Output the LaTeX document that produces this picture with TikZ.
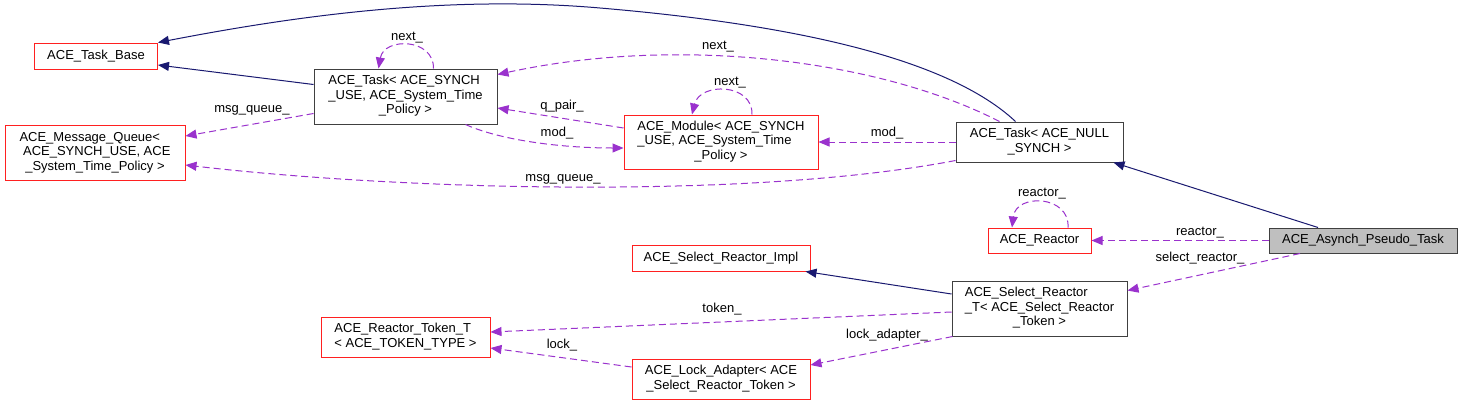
\documentclass[tikz,border=0pt]{standalone}
\usepackage{fontspec}
\setmainfont{Liberation Sans}
\usetikzlibrary{arrows.meta,calc}
\definecolor{navyc}{HTML}{191970}
\definecolor{purc}{HTML}{9A32CD}
\definecolor{redc}{HTML}{FF2020}
\definecolor{blkc}{HTML}{404040}
\definecolor{grayf}{HTML}{BFBFBF}
\newcommand\dlab[2]{\begin{tabular}{@{}l@{}}#1\\\multicolumn{1}{@{}c@{}}{#2}\end{tabular}}
\begin{document}
\begin{tikzpicture}[x=1pt,y=-1pt,font=\fontsize{13}{14.5}\selectfont,
  cls/.style={draw,line width=1pt,inner sep=0pt,anchor=center},
  rbox/.style={cls,draw=redc},
  bbox/.style={cls,draw=blkc},
  inh/.style={draw=navyc,line width=1pt,-{Triangle[length=11pt,width=9pt]}},
  use/.style={draw=purc,line width=1pt,dash pattern=on 7pt off 4pt,-{Triangle[length=11pt,width=9pt]}},
  lbl/.style={inner sep=0pt,anchor=center}]
\useasboundingbox[fill=white] (0,0) rectangle (1464,405);

% nodes
\node[rbox,minimum width=123pt,minimum height=26pt] (tb) at (96,56) {ACE\_Task\_Base};
\node[rbox,minimum width=180pt,minimum height=55pt] (mq) at (95,153) {\dlab{ACE\_Message\_Queue<\\\ ACE\_SYNCH\_USE, ACE}{\_System\_Time\_Policy >}};
\node[bbox,minimum width=183pt,minimum height=55pt] (ts) at (405.5,96.5) {\dlab{ACE\_Task< ACE\_SYNCH\\\_USE, ACE\_System\_Time}{\_Policy >}};
\node[rbox,minimum width=194pt,minimum height=54pt] (mod) at (721,142) {\dlab{ACE\_Module< ACE\_SYNCH\\\_USE, ACE\_System\_Time}{\_Policy >}};
\node[bbox,minimum width=167pt,minimum height=40pt] (tn) at (1039.5,142) {\dlab{ACE\_Task< ACE\_NULL}{\_SYNCH >}};
\node[rbox,minimum width=103pt,minimum height=25pt] (re) at (1039.5,240.5) {ACE\_Reactor};
\node[bbox,fill=grayf,minimum width=188pt,minimum height=25pt] (ap) at (1363,240.5) {ACE\_Asynch\_Pseudo\_Task};
\node[rbox,minimum width=178pt,minimum height=26pt] (sri) at (721,258) {ACE\_Select\_Reactor\_Impl};
\node[bbox,minimum width=175pt,minimum height=55pt] (srt) at (1039.5,308.5) {\dlab{ACE\_Select\_Reactor\\\_T< ACE\_Select\_Reactor}{\_Token >}};
\node[rbox,minimum width=169pt,minimum height=40pt] (rtt) at (405.5,337) {\dlab{ACE\_Reactor\_Token\_T}{< ACE\_TOKEN\_TYPE >}};
\node[rbox,minimum width=178pt,minimum height=40pt] (la) at (721,379) {\dlab{ACE\_Lock\_Adapter< ACE}{\_Select\_Reactor\_Token >}};

% inheritance
\draw[inh] ($(tn.north)+(-24,0)$) .. controls (950,60) and (800,25) .. (600,8) .. controls (450,-5) and (300,15) .. (tb.north east);
\draw[inh] ($(ts.west)+(0,-12)$) -- ($(tb.east)+(0,9)$);
\draw[inh] ($(ap.north)+(-45,0)$) -- ($(tn.south east)+(-10,0)$);
\draw[inh] ($(srt.west)+(0,-14.5)$) -- ($(sri.south east)+(-5,0)$);

% usage
\draw[use] ($(ts.north)+(28,0)$) .. controls (434,38) and (384,37) .. ($(ts.north)+(-27,0)$);
\node[lbl] (l1) at (407,38) {next\_};
\draw[use] ($(ts.west)+(0,17)$) -- ($(mq.east)+(0,-17)$);
\node[lbl] (l2) at (252,110) {msg\_queue\_};
\draw[use] ($(tn.south west)+(0,-2)$) .. controls (750,200) and (400,190) .. ($(mq.east)+(0,12)$);
\node[lbl] (l3) at (563,179) {msg\_queue\_};
\draw[use] ($(tn.north)+(-40,0)$) .. controls (880,60) and (680,35) .. ($(ts.north east)+(0,6)$);
\node[lbl] (l4) at (718,47) {next\_};
\draw[use] ($(mod.west)+(0,-14)$) -- ($(ts.east)+(0,11.5)$);
\node[lbl] (l5) at (562,106) {q\_pair\_};
\draw[use] ($(ts.south)+(60,0)$) .. controls (500,140) and (560,148) .. ($(mod.west)+(0,6)$);
\node[lbl] (l6) at (557,133) {mod\_};
\draw[use] ($(mod.north)+(31,0)$) .. controls (753,83) and (700,82) .. ($(mod.north)+(-29,0)$);
\node[lbl] (l7) at (730,83) {next\_};
\draw[use] (tn.west) -- (mod.east);
\node[lbl] (l8) at (887,133) {mod\_};
\draw[use] ($(re.north)+(28.5,0)$) .. controls (1070,195) and (1016,193) .. ($(re.north)+(-27.5,0)$);
\node[lbl] (l9) at (1042,194) {reactor\_};
\draw[use] (ap.west) -- (re.east);
\node[lbl] (l10) at (1200,233) {reactor\_};
\draw[use] ($(ap.south)+(-63,0)$) -- ($(srt.east)+(0,-18)$);
\node[lbl] (l11) at (1200,258) {select\_reactor\_};
\draw[use] ($(srt.west)+(0,3.5)$) -- ($(rtt.east)+(0,-5)$);
\node[lbl] (l12) at (722,309) {token\_};
\draw[use] ($(srt.south west)+(1,0)$) -- ($(la.east)+(0,-14)$);
\node[lbl] (l13) at (887,335) {lock\_adapter\_};
\draw[use] ($(la.west)+(0,-12)$) -- ($(rtt.east)+(0,11)$);
\node[lbl] (l14) at (562,345) {lock\_};
\end{tikzpicture}
\end{document}
